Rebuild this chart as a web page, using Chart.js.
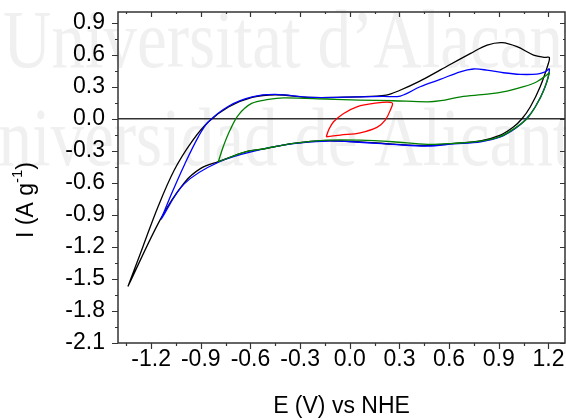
<!DOCTYPE html>
<html>
<head>
<meta charset="utf-8">
<script src="https://cdn.jsdelivr.net/npm/chart.js@4.4.1/dist/chart.umd.min.js"></script>
<style>
  html, body { margin: 0; padding: 0; background: #fff; }
  #box { width: 566px; height: 420px; }
</style>
</head>
<body>
<div id="box"><canvas id="cv" width="566" height="420"></canvas></div>
<script>
// tick labels
const xTicks = [-1.2, -0.9, -0.6, -0.3, 0.0, 0.3, 0.6, 0.9, 1.2];
const yTicks = [-2.1, -1.8, -1.5, -1.2, -0.9, -0.6, -0.3, 0.0, 0.3, 0.6, 0.9];

// curves: E (V) and I (A/g), traced as closed loops
const blackE = [-1.34, -1.25, -1.16, -1.06, -0.955, -0.855, -0.73, -0.59, -0.45, -0.24, 0.06, 0.22, 0.30, 0.42, 0.55, 0.73, 0.83, 0.92, 1.01, 1.11, 1.18, 1.205,
                1.2, 1.15, 1.09, 1.04, 0.99, 0.91, 0.79, 0.63, 0.47, 0.26, 0.06, -0.14, -0.34, -0.54, -0.63, -0.79, -0.90, -1.0, -1.14, -1.34];
const blackI = [-1.57, -1.20, -0.83, -0.48, -0.216, -0.03, 0.113, 0.20, 0.225, 0.20, 0.206, 0.222, 0.265, 0.35, 0.46, 0.613, 0.69, 0.713, 0.675, 0.597, 0.575, 0.575,
                0.52, 0.30, 0.11, 0.0, -0.075, -0.153, -0.206, -0.231, -0.25, -0.237, -0.216, -0.206, -0.231, -0.287, -0.31, -0.40, -0.465, -0.60, -0.93, -1.57];

const blueE = [-1.14, -1.076, -0.995, -0.915, -0.855, -0.73, -0.59, -0.45, -0.24, 0.06, 0.2, 0.305, 0.425, 0.546, 0.667, 0.747, 0.828, 0.928, 1.029, 1.13, 1.18, 1.206,
               1.18, 1.12, 1.06, 1.0, 0.91, 0.79, 0.63, 0.47, 0.26, 0.06, -0.14, -0.34, -0.54, -0.79, -1.0, -1.14];
const blueI = [-0.943, -0.70, -0.418, -0.169, -0.03, 0.12, 0.205, 0.228, 0.20, 0.205, 0.21, 0.213, 0.30, 0.369, 0.44, 0.466, 0.456, 0.431, 0.416, 0.419, 0.44, 0.466,
               0.30, 0.11, -0.012, -0.09, -0.169, -0.216, -0.235, -0.255, -0.24, -0.22, -0.208, -0.233, -0.29, -0.405, -0.61, -0.943];

const greenE = [-0.794, -0.764, -0.723, -0.673, -0.593, -0.49, -0.4, -0.14, 0.06, 0.26, 0.47, 0.55, 0.67, 0.83, 0.95, 1.05, 1.13, 1.19, 1.205,
                1.17, 1.12, 1.07, 1.0, 0.91, 0.79, 0.63, 0.47, 0.26, 0.06, -0.14, -0.34, -0.54, -0.63, -0.794];
const greenI = [-0.403, -0.26, -0.106, 0.035, 0.144, 0.181, 0.195, 0.185, 0.175, 0.169, 0.159, 0.17, 0.206, 0.23, 0.26, 0.30, 0.347, 0.41, 0.43,
                0.26, 0.11, 0.0, -0.085, -0.165, -0.21, -0.23, -0.24, -0.215, -0.2, -0.2, -0.23, -0.287, -0.31, -0.403];

const redE = [-0.142, -0.128, -0.098, -0.037, 0.043, 0.144, 0.255, 0.245, 0.214, 0.164, 0.063, -0.057, -0.142];
const redI = [-0.169, -0.106, -0.028, 0.05, 0.1125, 0.144, 0.15, 0.081, -0.012, -0.081, -0.131, -0.153, -0.169];

const FONT = '"Liberation Sans", Arial, sans-serif';

function pts(es, is) {
  return es.map((e, i) => ({ x: e, y: is[i] }));
}
function curve(es, is, color) {
  return {
    data: pts(es, is),
    showLine: true,
    borderColor: color,
    borderWidth: 1.3,
    pointRadius: 0,
    tension: 0.35,
    fill: false
  };
}

// faint watermark behind everything
const watermark = {
  id: 'watermark',
  beforeDraw(chart) {
    const ctx = chart.ctx;
    ctx.save();
    ctx.fillStyle = '#f0f0f0';
    ctx.font = '67px "Liberation Serif", serif';
    ctx.textBaseline = 'alphabetic';
    ctx.scale(1, 1.22);
    ctx.fillText('Universitat d\u2019Alacant', 3, 67 / 1.22);
    ctx.fillText('Universidad de Alicante', -50, 165 / 1.22);
    ctx.restore();
  }
};

// frame, major + minor ticks, y title with superscript
function minors(major, min, max) {
  const step = major[1] - major[0];
  const out = [];
  major.forEach(t => out.push(t - step / 2));
  out.push(major[major.length - 1] + step / 2);
  return out.filter(v => v > min + 1e-9 && v < max - 1e-9);
}
const frame = {
  id: 'frame',
  afterDraw(chart) {
    const { ctx, chartArea: a, scales: { x, y } } = chart;
    ctx.save();
    ctx.strokeStyle = '#333';
    ctx.lineWidth = 1.5;
    ctx.strokeRect(a.left, a.top, a.right - a.left, a.bottom - a.top);
    ctx.lineWidth = 1.2;
    ctx.beginPath();
    const xm = minors(xTicks, x.min, x.max), ym = minors(yTicks, y.min, y.max);
    const xs = [...xTicks.map(v => [v, 6]), ...xm.map(v => [v, 3])];
    const ys = [...yTicks.map(v => [v, 6]), ...ym.map(v => [v, 3])];
    xs.forEach(([v, len]) => {
      const px = Math.round(x.getPixelForValue(v)) + 0.5;
      ctx.moveTo(px, a.bottom); ctx.lineTo(px, a.bottom + len);
      ctx.moveTo(px, a.top); ctx.lineTo(px, a.top + len - 1);
    });
    ys.forEach(([v, len]) => {
      const py = Math.round(y.getPixelForValue(v)) + 0.5;
      ctx.moveTo(a.left, py); ctx.lineTo(a.left - len, py);
      ctx.moveTo(a.right, py); ctx.lineTo(a.right - len + 1, py);
    });
    ctx.stroke();

    // y title: I (A g^-1)
    ctx.fillStyle = '#000';
    ctx.translate(27, 200);
    ctx.rotate(-Math.PI / 2);
    ctx.textBaseline = 'middle';
    ctx.textAlign = 'left';
    const big = '23px ' + FONT, small = '15px ' + FONT;
    ctx.font = big;
    const w1 = ctx.measureText('I (A g').width;
    const w3 = ctx.measureText(')').width;
    ctx.font = small;
    const w2 = ctx.measureText('-1').width;
    let sx = -(w1 + w2 + w3) / 2;
    ctx.font = big;
    ctx.fillText('I (A g', sx, 0);
    ctx.font = small;
    ctx.fillText('-1', sx + w1, -9);
    ctx.font = big;
    ctx.fillText(')', sx + w1 + w2, 0);
    ctx.restore();
  }
};

new Chart(document.getElementById('cv'), {
  type: 'scatter',
  data: {
    datasets: [
      curve(redE, redI, '#ff0000'),
      curve(greenE, greenI, '#008000'),
      curve(blueE, blueI, '#0000ff'),
      curve(blackE, blackI, '#000000')
    ]
  },
  options: {
    responsive: false,
    animation: false,
    layout: { padding: { left: 0, top: 12, right: 1, bottom: 0 } },
    plugins: { legend: { display: false }, tooltip: { enabled: false } },
    scales: {
      x: {
        type: 'linear',
        min: -1.4,
        max: 1.3,
        afterBuildTicks: s => { s.ticks = xTicks.map(v => ({ value: v })); },
        afterFit: s => { s.height = 77; s.paddingLeft = 0; s.paddingRight = 0; },
        grid: { display: false, drawTicks: false },
        border: { display: false },
        ticks: {
          callback: v => v.toFixed(1),
          color: '#000',
          padding: 3,
          maxRotation: 0,
          autoSkip: false,
          font: { family: FONT, size: 23 }
        },
        title: {
          display: true,
          text: 'E (V) vs NHE',
          color: '#000',
          font: { family: FONT, size: 23 },
          padding: { top: 0, bottom: 0 }
        }
      },
      y: {
        type: 'linear',
        min: -2.1,
        max: 1.0,
        afterBuildTicks: s => { s.ticks = yTicks.map(v => ({ value: v })); },
        afterFit: s => { s.width = 118; s.paddingTop = 0; s.paddingBottom = 0; },
        grid: {
          display: true,
          drawTicks: false,
          lineWidth: 1.5,
          color: c => (c.tick && Math.abs(c.tick.value) < 1e-9) ? '#333' : 'rgba(0,0,0,0)'
        },
        border: { display: false },
        ticks: {
          callback: v => v.toFixed(1),
          color: '#000',
          padding: 13,
          autoSkip: false,
          font: { family: FONT, size: 23 }
        }
      }
    }
  },
  plugins: [watermark, frame]
});
</script>
</body>
</html>
